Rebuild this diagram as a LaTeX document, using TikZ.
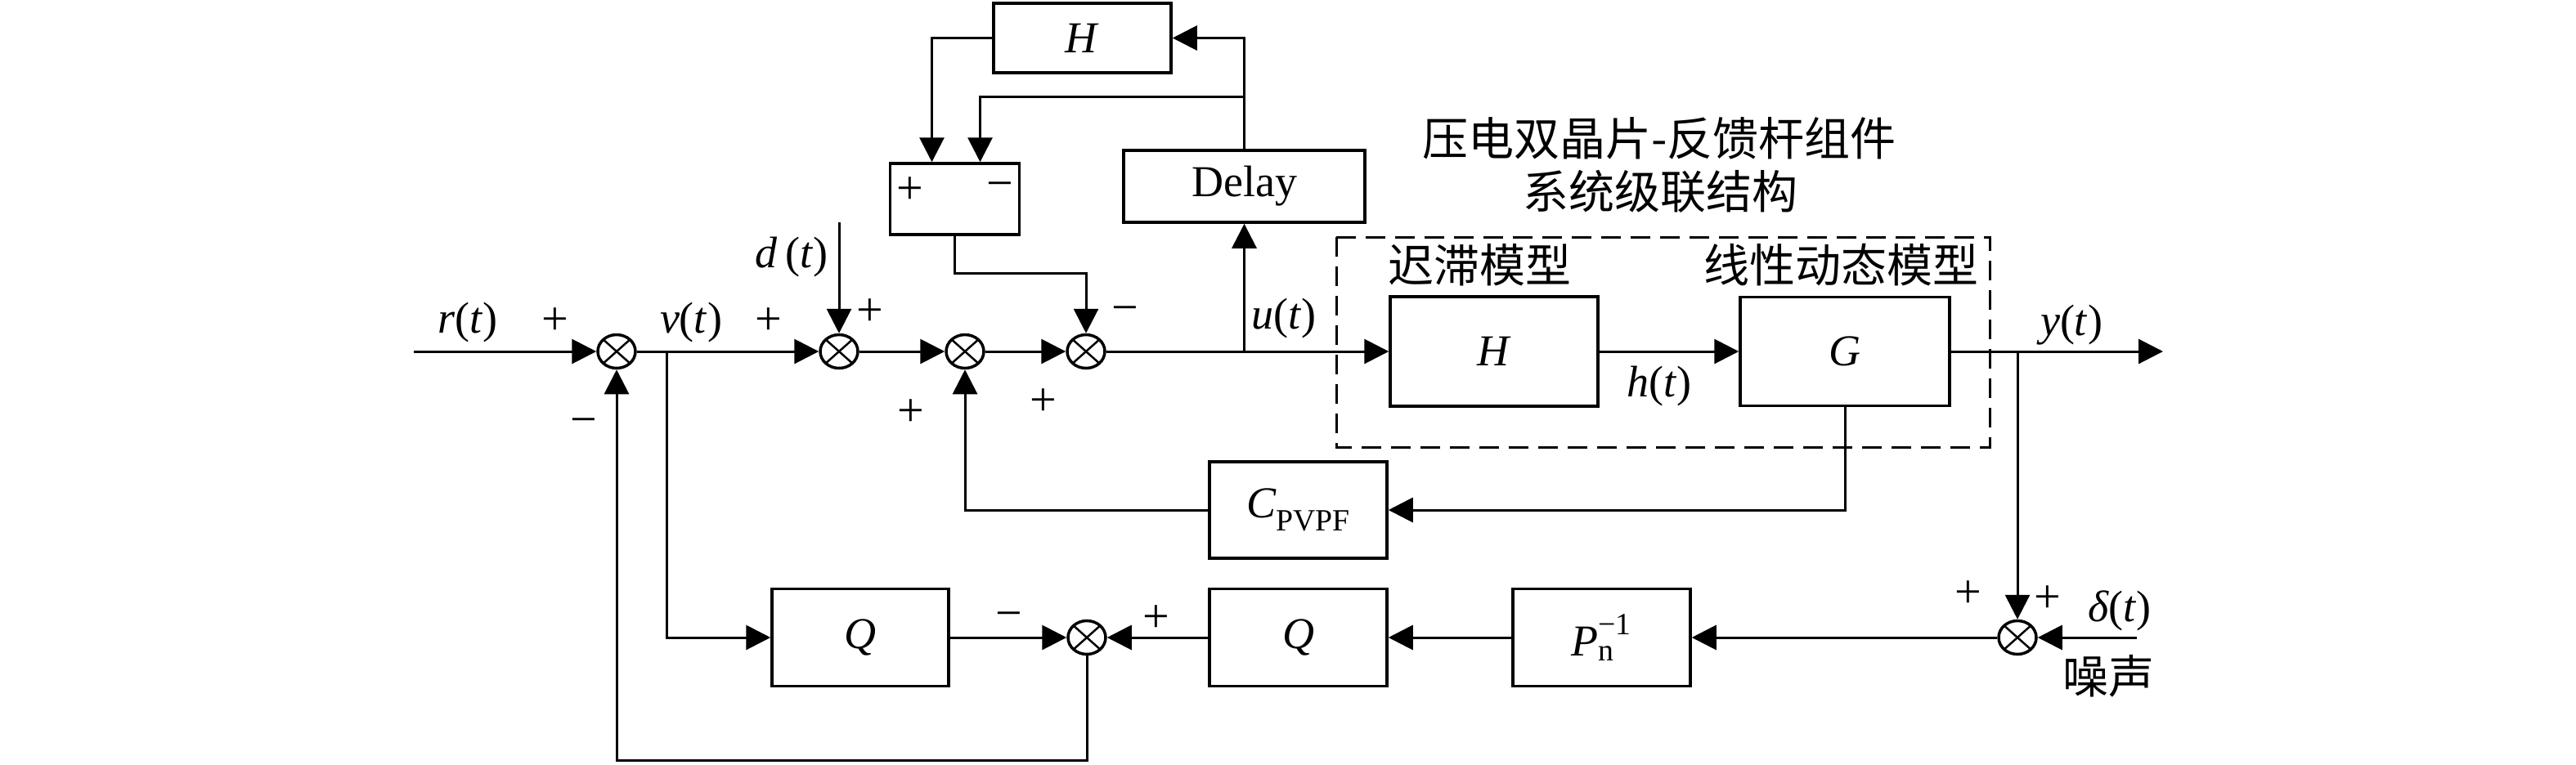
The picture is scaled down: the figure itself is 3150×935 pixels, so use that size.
\documentclass[tikz,border=0pt]{standalone}
\usepackage{fontspec}
\usepackage{amsmath}
\setmainfont{Liberation Serif}
\newfontfamily\cjkf{Noto Sans CJK SC}
\usetikzlibrary{arrows.meta,shapes.geometric}
\begin{document}
\begin{tikzpicture}[x=1pt,y=-1pt, line width=3pt,
  >={Triangle[length=30pt,width=30pt]},
  lat/.style={font=\fontsize{54}{60}\selectfont, inner sep=0pt},
  sgn/.style={font=\fontsize{58}{60}\selectfont, inner sep=0pt},
  zh/.style={font=\cjkf\fontsize{56}{66}\selectfont, inner sep=0pt},
  blk/.style={draw, line width=3.5pt, inner sep=0pt, font=\fontsize{54}{60}\selectfont},
  sum/.style={ellipse, draw, line width=3.5pt, minimum width=46pt, minimum height=41pt, inner sep=0pt,
     path picture={\draw[line width=2.5pt] (path picture bounding box.north west) -- (path picture bounding box.south east) (path picture bounding box.north east) -- (path picture bounding box.south west);}},
  grp/.style={line width=3pt, dash pattern=on 24pt off 12pt}
  ]
\useasboundingbox (0,0) rectangle (3150,935);

% summing junctions
\node[sum] (S1) at (754,430) {};
\node[sum] (S2) at (1026,430) {};
\node[sum] (S3) at (1180,430) {};
\node[sum] (S4) at (1328,430) {};
\node[sum] (S5) at (2467,780) {};
\node[sum] (S6) at (1329,780) {};

% blocks
\node[blk, minimum width=217pt, minimum height=85pt] (Ht) at (1323.5,46.5) {\textit{H}};
\node[blk, minimum width=158pt, minimum height=87pt] (PM) at (1167.5,243.5) {};
\node[sgn] (pmp) at (1113,233) {+};
\node[sgn] (pmm) at (1223,233) {−};
\node[blk, minimum width=295pt, minimum height=88pt] (Dl) at (1521.5,228) {Delay};
\node[blk, minimum width=254pt, minimum height=134pt] (Hm) at (1827,430) {\textit{H}};
\node[blk, minimum width=256pt, minimum height=133pt] (G) at (2256,430) {\textit{G}};
\node[blk, minimum width=217pt, minimum height=118pt] (C) at (1587.5,624) {$\textit{C}_{\text{PVPF}}$};
\node[blk, minimum width=217pt, minimum height=119pt] (Qr) at (1587.5,780) {\textit{Q}};
\node[blk, minimum width=217pt, minimum height=119pt] (P) at (1958.5,780) {$\textit{P}_{\text{n}}^{\text{−1}}$};
\node[blk, minimum width=216pt, minimum height=119pt] (Ql) at (1052,780) {\textit{Q}};

% group box
\draw[grp] (1634,290) rectangle (2433,547);

% texts
\node[zh] (t1) at (2029,169) {压电双晶片-反馈杆组件};
\node[zh] (t2) at (2030,234) {系统级联结构};
\node[zh] (t3) at (1809,324) {迟滞模型};
\node[zh] (t4) at (2251,324) {线性动态模型};
\node[zh] (t5) at (2578,827) {噪声};

\node[lat] (lr) at (572,395) {\textit{r}(\textit{t})};
\node[lat] (lv) at (845,395) {\textit{v}(\textit{t})};
\node[lat] (ld) at (968,315) {\textit{d}\,(\textit{t})};
\node[lat] (lu) at (1570,390) {\textit{u}(\textit{t})};
\node[lat] (lh) at (2029,473) {\textit{h}(\textit{t})};
\node[lat] (ly) at (2533,398) {\textit{y}(\textit{t})};
\node[lat] (ldl) at (2592,747) {\textit{δ}(\textit{t})};

% signs
\node[sgn] (g1) at (679,393) {+};
\node[sgn] (g2) at (940,393) {+};
\node[sgn] (g3) at (1064,382) {+};
\node[sgn] (g4) at (1376,385) {−};
\node[sgn] (g5) at (714,522) {−};
\node[sgn] (g6) at (1114,505) {+};
\node[sgn] (g7) at (1276,492) {+};
\node[sgn] (g8) at (1234,759) {−};
\node[sgn] (g9) at (1414,757) {+};
\node[sgn] (g10) at (2407,727) {+};
\node[sgn] (g11) at (2504,733) {+};

% coordinates
\coordinate (in) at (506,430);
\coordinate (dIn) at (1026,272);
\coordinate (bu) at (1521.5,430);
\coordinate (b2) at (1521.5,118);
\coordinate (out) at (2645,430);
\coordinate (by) at (2467,430);
\coordinate (dn) at (2613,780);
\coordinate (bv) at (815,430);
\coordinate (bot) at (1329,930);

% wires
\draw[->] (in) -- (S1);
\draw[->] (S1) -- (S2);
\draw[->] (dIn) -- (S2);
\draw[->] (S2) -- (S3);
\draw[->] (S3) -- (S4);
\draw[->] (S4) -- (Hm);
\draw[->] (bu) -- (Dl.south);
\draw[->] (Dl.north) -- (Dl.north |- Ht.east) -- (Ht.east);
\draw[->] (b2) -| ([xshift=31pt]PM.north);
\draw[->] (Ht.west) -| ([xshift=-28pt]PM.north);
\draw[->] (PM.south) -- ++(0,46) -| (S4.north);
\draw[->] (Hm) -- (G);
\draw[->] (G) -- (out);
\draw[->] (by) -- (S5);
\draw[->] (G.south) |- (C.east);
\draw[->] (C.west) -| (S3.south);
\draw[->] (dn) -- (S5);
\draw[->] (S5) -- (P);
\draw[->] (P) -- (Qr);
\draw[->] (Qr) -- (S6);
\draw[->] (bv) |- (Ql.west);
\draw[->] (Ql) -- (S6);
\draw[->] (S6.south) -- (bot) -| (S1.south);
\end{tikzpicture}
\end{document}
